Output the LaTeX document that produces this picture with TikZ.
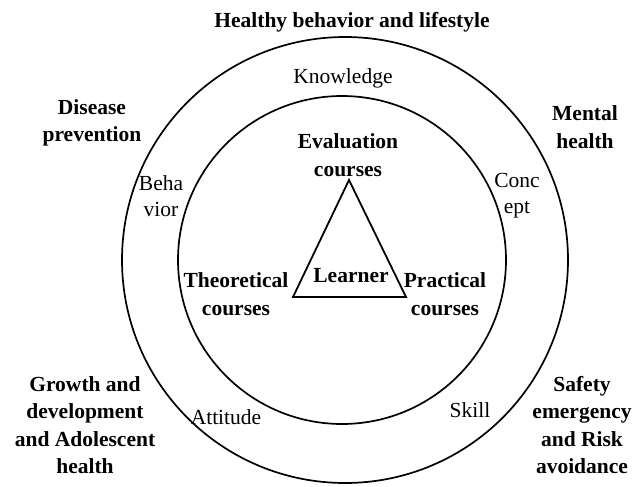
\documentclass[tikz,border=0pt]{standalone}
\usepackage{fontspec}
\setmainfont{Liberation Serif}
\begin{document}
\begin{tikzpicture}[x=1pt,y=-1pt,
  ring/.style={draw=black,line width=1.7pt},
  tri/.style={draw=black,line width=1.8pt,line join=miter},
  boldlbl/.style={font=\fontsize{21.5}{27.5}\selectfont\bfseries,align=center,inner sep=0pt},
  plainlbl/.style={font=\fontsize{21.5}{26}\selectfont,align=center,inner sep=0pt}]
\useasboundingbox (0,0) rectangle (632,487);
% circles
\coordinate (oc) at (345,260);
\coordinate (ic) at (342,260);
\draw[ring] (oc) circle[radius=223];
\draw[ring] (ic) circle[radius=164];
% triangle
\coordinate (ta) at (349,180);
\coordinate (tl) at (293,297);
\coordinate (tr) at (406,297);
\draw[tri] (ta) -- (tl) -- (tr) -- cycle;
% outer labels
\node[boldlbl] (hb) at (352,22) {Healthy behavior and lifestyle};
\node[boldlbl] (dp) at (92,123) {Disease\\prevention};
\node[boldlbl] (mh) at (585,127) {Mental\\health};
\node[boldlbl] (gd) at (85,425) {Growth and\\development\\and Adolescent\\health};
\node[boldlbl] (se) at (582,425) {Safety\\emergency\\and Risk\\avoidance};
% ring labels
\node[plainlbl] (kn) at (343,78) {Knowledge};
\node[plainlbl] (bh) at (161,196) {Beha\\vior};
\node[plainlbl] (cc) at (517,196) {Conc\\ept};
\node[plainlbl] (at) at (226,417) {Attitude};
\node[plainlbl] (sk) at (470,410) {Skill};
% inner labels
\node[boldlbl] (ev) at (348,155) {Evaluation\\courses};
\node[boldlbl] (th) at (236,294) {Theoretical\\courses};
\node[boldlbl] (pr) at (445,294) {Practical\\courses};
\node[boldlbl] (le) at (351,276) {Learner};
\end{tikzpicture}
\end{document}
